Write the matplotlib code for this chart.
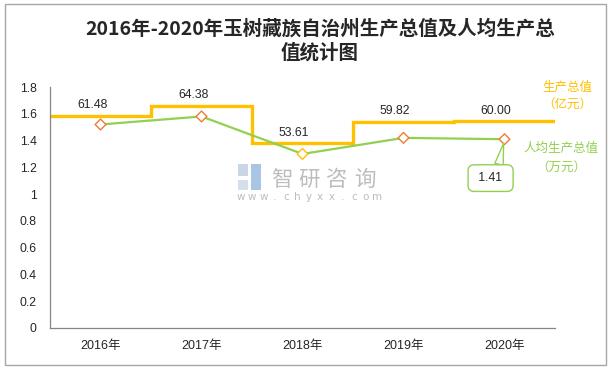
import matplotlib
matplotlib.use("Agg")
import matplotlib.pyplot as plt
import numpy as np
from matplotlib.patches import Rectangle

# ---- data ----
years = ["2016年", "2017年", "2018年", "2019年", "2020年"]
gdp = [61.48, 64.38, 53.61, 59.82, 60.00]          # 亿元 (secondary, hidden axis)
per_capita = [1.52, 1.58, 1.30, 1.42, 1.41]         # 万元
yticks = [0, 0.2, 0.4, 0.6, 0.8, 1, 1.2, 1.4, 1.6, 1.8]
ytick_labels = ["0", "0.2", "0.4", "0.6", "0.8", "1", "1.2", "1.4", "1.6", "1.8"]
title = "2016年-2020年玉树藏族自治州生产总值及人均生产总\n值统计图"

GOLD = "#FFC000"
GREEN = "#92D050"
ORANGE = "#ED7D31"
marker_edges = [ORANGE, ORANGE, GOLD, ORANGE, ORANGE]

W, H = 614, 369
fig = plt.figure(figsize=(W / 100, H / 100), dpi=100)
fig.patch.set_facecolor("white")

def fx(px): return px / W
def fy(py): return 1 - py / H

# outer border
fig.patches.append(Rectangle((fx(5), fy(365)), fx(606) - fx(5), fy(4) - fy(365),
                             transform=fig.transFigure, fill=False,
                             edgecolor="#A6A6A6", lw=1.0))

ax = fig.add_axes([fx(50), fy(328), fx(555) - fx(50), fy(87) - fy(328)])
ax2 = ax.twinx()

x = np.arange(len(years))
edges = np.arange(len(years) + 1) - 0.5

# GDP step line on hidden secondary axis
ax2.stairs(gdp, edges, baseline=None, color=GOLD, lw=2.4)
ax2.set_ylim(0, 70)
ax2.axis("off")
for xi, v in zip(x, gdp):
    ax2.annotate(f"{v:.2f}", (xi, v), xytext=(-6, 3.5), textcoords="offset points",
                 ha="center", va="bottom", fontsize=8.8, color="#262626",
                 family="Liberation Sans")

# per-capita line
ax.set_zorder(ax2.get_zorder() + 1)
ax.patch.set_visible(False)
ax.plot(x, per_capita, color=GREEN, lw=1.6, zorder=3)
ax.scatter(x, per_capita, marker="D", s=30, facecolors="white",
           edgecolors=marker_edges, linewidths=1.0, zorder=4)

ax.set_xlim(-0.5, len(years) - 0.5)
ax.set_ylim(0, 1.8)
ax.set_yticks(yticks)
ax.set_yticklabels(ytick_labels, family="Liberation Sans", fontsize=8.8, color="#262626")
ax.set_xticks(x)
ax.set_xticklabels(years, family=["Liberation Sans", "Noto Sans CJK SC"], fontsize=9,
                   color="#262626")
ax.tick_params(axis="y", length=0, pad=9.5)
ax.tick_params(axis="x", length=0, pad=9)
for s in ["top", "right"]:
    ax.spines[s].set_visible(False)
ax.spines["left"].set_color("#868686")
ax.spines["bottom"].set_color("#868686")
ax.spines["left"].set_linewidth(0.9)
ax.spines["bottom"].set_linewidth(0.9)

# callout for last per-capita value
ax.annotate(f" {per_capita[-1]:.2f} ", (x[-1], per_capita[-1]), xytext=(-10, -28),
            textcoords="offset points", ha="center", va="center", fontsize=8.8,
            family="Liberation Sans", color="#262626",
            bbox=dict(boxstyle="round,pad=0.6,rounding_size=0.5", fc="white",
                      ec=GREEN, lw=1.0),
            arrowprops=dict(arrowstyle="wedge,tail_width=0.7", fc="white", ec=GREEN,
                            lw=1.0, shrinkA=0, shrinkB=3, relpos=(0.72, 1.0)),
            zorder=5)

# title
fig.text(fx(320), fy(40.5), title, ha="center", va="center", fontsize=14,
         family=["Noto Sans CJK SC", "DejaVu Sans"], weight="bold", color="#262626",
         linespacing=1.3)

# series labels
cjk = ["Noto Sans CJK SC", "DejaVu Sans"]
fig.text(fx(567), fy(87), "生产总值", ha="center", va="center", fontsize=9, color=GOLD, family=cjk)
fig.text(fx(567), fy(104), "（亿元）", ha="center", va="center", fontsize=9, color=GOLD, family=cjk)
fig.text(fx(561), fy(148), "人均生产总值", ha="center", va="center", fontsize=9, color=GREEN, family=cjk)
fig.text(fx(561), fy(167), "（万元）", ha="center", va="center", fontsize=9, color=GREEN, family=cjk)

# watermark
fig.patches.append(Rectangle((fx(238), fy(176)), 10 / W, 12 / H, transform=fig.transFigure,
                             fc="#C9D6E8", ec="none"))
fig.patches.append(Rectangle((fx(251), fy(190)), 10 / W, 26 / H, transform=fig.transFigure,
                             fc="#A9C4E4", ec="none"))
fig.patches.append(Rectangle((fx(238), fy(190)), 10 / W, 10 / H, transform=fig.transFigure,
                             fc="#D5DFEC", ec="none"))
wm_chars = "智研咨询"
for i, ch in enumerate(wm_chars):
    fig.text(fx(282 + i * 27.5), fy(180), ch, ha="center", va="center", fontsize=15.5,
             color="#BDBDBD", family=cjk)
wm_url = "www.chyxx.com"
for i, ch in enumerate(wm_url):
    fig.text(fx(241 + i * 11.3), fy(197), ch, ha="center", va="center",
             fontsize=7.5, color="#BDBDBD", family="DejaVu Sans")

fig.savefig("out.png", dpi=100, facecolor="white")
